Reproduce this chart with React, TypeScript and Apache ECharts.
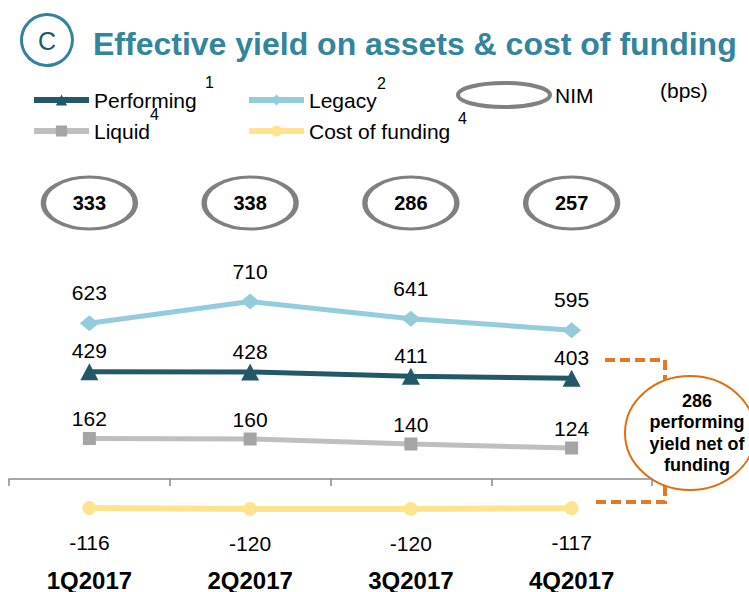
import React, { useEffect, useRef } from 'react';
import * as echarts from 'echarts';

const categories = ['1Q2017', '2Q2017', '3Q2017', '4Q2017'];
const performing = [429, 428, 411, 403];
const legacy = [623, 710, 641, 595];
const liquid = [162, 160, 140, 124];
const costOfFunding = [-116, -120, -120, -117];
const nim = [333, 338, 286, 257];
const netPerformingYield = 286;

const ELLIPSE =
  'path://M0,50 C0,22.4 22.4,0 50,0 C77.6,0 100,22.4 100,50 C100,77.6 77.6,100 50,100 C22.4,100 0,77.6 0,50 Z';
const FONT = '"Liberation Sans", Arial, Helvetica, sans-serif';

export default function App() {
  const ref = useRef<HTMLDivElement>(null);

  useEffect(() => {
    const chart = echarts.init(ref.current!, null, { renderer: 'svg' });
    const labelBase = { show: true, fontSize: 21, color: '#000', fontFamily: FONT };
    const legendBase = {
      padding: 0,
      itemWidth: 55,
      itemHeight: 14,
      selectedMode: false,
      lineStyle: { width: 6 },
      textStyle: { fontSize: 21, color: '#000', fontFamily: FONT, lineHeight: 22 },
    };
    const txt = (text: string, x: number, y: number, extra: any = {}) => ({
      type: 'text',
      x,
      y,
      style: {
        text,
        fontSize: 16,
        fontFamily: FONT,
        fill: '#000',
        align: 'left',
        verticalAlign: 'middle',
        ...extra,
      },
    });

    chart.setOption({
      animation: false,
      textStyle: { fontFamily: FONT },
      grid: [
        { left: 9, width: 643, top: 279, height: 250, outerBoundsMode: 'none', containLabel: false },
        { left: 9, width: 643, top: 178, height: 50, outerBoundsMode: 'none', containLabel: false },
      ],
      xAxis: [
        {
          type: 'category',
          data: categories,
          gridIndex: 0,
          axisLine: { lineStyle: { color: '#8a8a8a', width: 1.5 } },
          axisTick: { show: true, length: 7, lineStyle: { color: '#8a8a8a', width: 1.5 } },
          axisLabel: { fontSize: 24, fontWeight: 'bold', color: '#000', margin: 39, fontFamily: FONT },
        },
        { type: 'category', data: categories, gridIndex: 1, show: false },
      ],
      yAxis: [
        { type: 'value', gridIndex: 0, min: -200, max: 800, show: false, splitLine: { show: false } },
        { type: 'value', gridIndex: 1, min: 0, max: 1, show: false, splitLine: { show: false } },
      ],
      legend: [
        { ...legendBase, data: ['Performing'], left: 31, top: 89 },
        { ...legendBase, data: ['Legacy'], left: 246, top: 89 },
        { ...legendBase, data: ['Liquid'], left: 31, top: 120 },
        { ...legendBase, data: ['Cost of funding'], left: 246, top: 120 },
        {
          ...legendBase,
          data: ['NIM'],
          left: 456,
          top: 81,
          itemWidth: 92,
          itemHeight: 24,
          icon: ELLIPSE,
          symbolKeepAspect: false,
          itemStyle: { color: '#fff', borderColor: '#808080', borderWidth: 4 },
        },
      ],
      series: [
        {
          name: 'Legacy',
          type: 'line',
          data: legacy,
          symbol: 'diamond',
          symbolSize: [19, 16],
          clip: false,
          lineStyle: { color: '#93CDDD', width: 5 },
          itemStyle: { color: '#93CDDD' },
          label: { ...labelBase, position: 'top', distance: 12 },
        },
        {
          name: 'Performing',
          type: 'line',
          data: performing,
          symbol: 'triangle',
          symbolSize: [18, 17],
          clip: false,
          lineStyle: { color: '#215968', width: 5 },
          itemStyle: { color: '#215968' },
          label: { ...labelBase, position: 'top', distance: 2 },
        },
        {
          name: 'Liquid',
          type: 'line',
          data: liquid,
          symbol: 'rect',
          symbolSize: 13,
          clip: false,
          lineStyle: { color: '#BFBFBF', width: 5 },
          itemStyle: { color: '#A5A5A5' },
          label: { ...labelBase, position: 'top', distance: 3 },
        },
        {
          name: 'Cost of funding',
          type: 'line',
          data: costOfFunding,
          symbol: 'circle',
          symbolSize: 14,
          clip: false,
          lineStyle: { color: '#FFE38E', width: 6 },
          itemStyle: { color: '#FFE38E' },
          label: { ...labelBase, position: 'bottom', distance: 17 },
        },
        {
          name: 'NIM',
          type: 'scatter',
          xAxisIndex: 1,
          yAxisIndex: 1,
          clip: false,
          data: nim.map((v, i) => [i, 0.5, v]),
          symbol: ELLIPSE,
          symbolSize: [92, 52],
          itemStyle: { color: '#fff', borderColor: '#808080', borderWidth: 4, opacity: 1 },
          label: {
            show: true,
            position: 'inside',
            formatter: (p: any) => String(p.value[2]),
            fontSize: 20,
            fontWeight: 'bold',
            color: '#000',
            fontFamily: FONT,
          },
        },
      ],
      graphic: [
        {
          type: 'circle',
          shape: { cx: 47, cy: 40, r: 25.5 },
          style: { fill: 'none', stroke: '#31849B', lineWidth: 3 },
        },
        txt('C', 47, 41, { fontSize: 25, fill: '#215868', align: 'center' }),
        txt('Effective yield on assets & cost of funding', 93, 44, {
          fontSize: 32,
          fontWeight: 'bold',
          fill: '#31859C',
        }),
        txt('1', 205, 82),
        txt('2', 377, 83),
        txt('4', 150, 114),
        txt('4', 458, 118),
        txt('(bps)', 660, 90, { fontSize: 21 }),
        {
          type: 'polyline',
          shape: { points: [[605, 360], [665, 360], [665, 380]] },
          style: { fill: 'none', stroke: '#E87722', lineWidth: 4, lineDash: [10, 5] },
        },
        {
          type: 'polyline',
          shape: { points: [[665, 486], [665, 502], [593, 502]] },
          style: { fill: 'none', stroke: '#E87722', lineWidth: 4, lineDash: [10, 5] },
        },
        {
          type: 'ellipse',
          shape: { cx: 690, cy: 433, rx: 65, ry: 57 },
          style: { fill: '#fff', stroke: '#E46C0A', lineWidth: 2 },
        },
        txt(`${netPerformingYield}\nperforming\nyield net of\nfunding`, 697, 433, {
          fontSize: 18,
          fontWeight: 'bold',
          align: 'center',
          lineHeight: 21.5,
        }),
      ],
    });

    return () => chart.dispose();
  }, []);

  return (
    <div
      ref={ref}
      style={{ position: 'fixed', left: 0, top: 0, width: 749, height: 592, background: '#fff' }}
    />
  );
}
